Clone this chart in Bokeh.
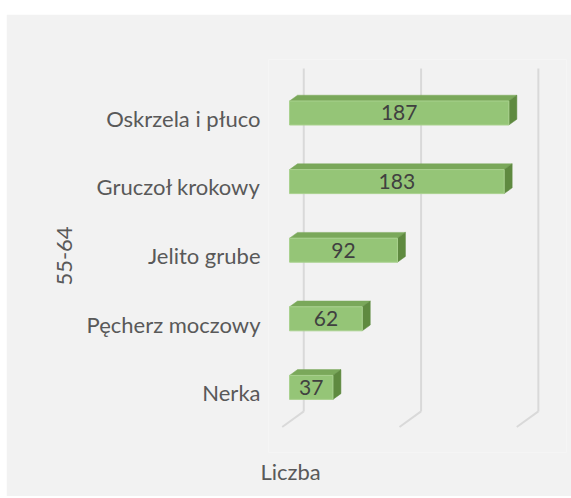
from bokeh.plotting import figure
from bokeh.models import FixedTicker, Title, Spacer, ColumnDataSource
from bokeh.layouts import column, row
from bokeh.core.properties import value
from bokeh.embed import file_html
from bokeh.resources import INLINE

# ---- data ----
categories = ["Nerka", "Pęcherz moczowy", "Jelito grube", "Gruczoł krokowy", "Oskrzela i płuco"]
counts = [37, 62, 92, 183, 187]
grid_values = [0, 100, 200]
group_label = "55-64"
value_axis_label = "Liczba"

# ---- style / pseudo-3D geometry ----
FONT = "Lato"
BG = "#f2f2f2"
K = 1.173          # px per value unit
S = 68.6           # px per category
DXd = 21.6 / K     # full depth offset in value units
DYd = 15.6 / S     # full depth offset in category units
d_front, d_back = 0.34, 0.71
half_h = 0.35 / 2

p = figure(width=565, height=482, output_backend="svg", toolbar_location=None,
           x_range=(-11.68, 242.4), y_range=(-0.5 - 25.5 / S, -0.5 + 367.5 / S),
           min_border_left=262, min_border_right=5, min_border_top=45, min_border_bottom=44)
p.background_fill_color = BG
p.border_fill_color = BG
p.outline_line_color = None
p.xgrid.visible = False
p.ygrid.visible = False
p.xaxis.visible = False

n = len(categories)
# back wall gridlines and floor diagonals
for gv in grid_values:
    p.line([gv + DXd, gv + DXd], [-0.5 + DYd, n - 0.5 + DYd], line_color="#d9d9d9", line_width=2)
    p.line([gv, gv + DXd], [-0.5, -0.5 + DYd], line_color="#d9d9d9", line_width=2)

idx = list(range(n))
fx0 = [d_front * DXd for _ in idx]
fx1 = [c + d_front * DXd for c in counts]
fyc = [i + d_front * DYd for i in idx]
ddx = (d_back - d_front) * DXd
ddy = (d_back - d_front) * DYd

# top faces
top_xs, top_ys, side_xs, side_ys = [], [], [], []
for a, b, yc in zip(fx0, fx1, fyc):
    yt, yb = yc + half_h, yc - half_h
    top_xs.append([a, b, b + ddx, a + ddx])
    top_ys.append([yt, yt, yt + ddy, yt + ddy])
    side_xs.append([b, b, b + ddx, b + ddx])
    side_ys.append([yb, yt, yt + ddy, yb + ddy])
p.patches(top_xs, top_ys, fill_color="#7aa85a", line_color="#7aa85a", line_width=0.5)
p.patches(side_xs, side_ys, fill_color="#5f8a40", line_color="#5f8a40", line_width=0.5)
src = ColumnDataSource(dict(left=fx0, right=fx1, y=fyc,
                            xm=[(a + b) / 2 for a, b in zip(fx0, fx1)],
                            lab=[str(c) for c in counts]))
p.hbar(y="y", left="left", right="right", height=2 * half_h, source=src,
       fill_color="#95c577", line_color="#a9d18e", line_width=1)
p.text(x="xm", y="y", text="lab", source=src, text_align="center", text_baseline="middle",
       text_font=value(FONT), text_font_size="21px", text_color="#404040")

ax = p.yaxis[0]
ax.ticker = FixedTicker(ticks=idx)
ax.major_label_overrides = {i: c for i, c in zip(idx, categories)}
ax.axis_line_color = None
ax.major_tick_line_color = None
ax.minor_tick_line_color = None
ax.major_tick_out = 0
ax.major_tick_in = 0
ax.major_label_standoff = 8
ax.major_label_text_font = FONT
ax.major_label_text_font_size = "22px"
ax.major_label_text_color = "#595959"
ax.axis_label = group_label
ax.axis_label_text_font = FONT
ax.axis_label_text_font_size = "22px"
ax.axis_label_text_font_style = "normal"
ax.axis_label_text_color = "#595959"
ax.axis_label_standoff = 12

t = Title(text=value_axis_label, align="left", offset=-8, text_font=FONT, text_font_size="22px",
          text_font_style="normal", text_color="#595959", standoff=6)
p.add_layout(t, "below")

layout = row(Spacer(width=6, height=10), column(Spacer(width=565, height=14), p))
open("out.html", "w").write(file_html(layout, INLINE))
